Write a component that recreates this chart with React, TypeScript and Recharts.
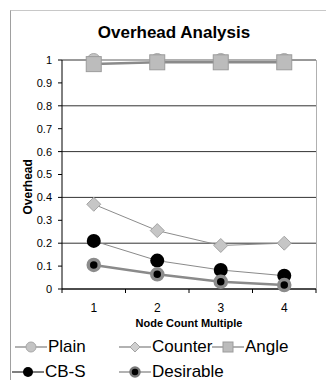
import React from 'react';
import { LineChart, Line, XAxis, YAxis, CartesianGrid } from 'recharts';

const multiples = [1, 2, 3, 4];
const plain = [1.0, 1.0, 1.0, 1.0];
const counter = [0.37, 0.255, 0.19, 0.2];
const angle = [0.982, 0.99, 0.99, 0.99];
const cbs = [0.21, 0.124, 0.083, 0.058];
const desirable = [0.105, 0.064, 0.032, 0.017];
const yTicks = [0, 0.1, 0.2, 0.3, 0.4, 0.5, 0.6, 0.7, 0.8, 0.9, 1];
// tick marks sit between categories, labels in the middle of each band
const xBounds = [0.5, 1.5, 2.5, 3.5, 4.5];

const data = multiples.map((m, i) => ({
  m,
  plain: plain[i],
  counter: counter[i],
  angle: angle[i],
  cbs: cbs[i],
  desirable: desirable[i],
}));

const FONT = '"Liberation Sans", Arial, sans-serif';
const BAND = 254 / 4;

const CircleDot = (props: any) => (
  <circle key={props.key} cx={props.cx} cy={props.cy} r={6.5} fill="#c4c4c4" stroke="#a8a8a8" strokeWidth={1} />
);
const DiamondDot = (props: any) => {
  const { cx, cy } = props;
  const s = 7;
  return (
    <path key={props.key} d={`M${cx},${cy - s} L${cx + s},${cy} L${cx},${cy + s} L${cx - s},${cy} Z`} fill="#c6c6c6" stroke="#a4a4a4" strokeWidth={1} />
  );
};
const SquareDot = (props: any) => (
  <rect key={props.key} x={props.cx - 7.5} y={props.cy - 7.5} width={15} height={15} fill="#bcbcbc" stroke="#9c9c9c" strokeWidth={1} />
);
const BlackDot = (props: any) => (
  <circle key={props.key} cx={props.cx} cy={props.cy} r={7} fill="#000" />
);
const RingDot = (props: any) => (
  <circle key={props.key} cx={props.cx} cy={props.cy} r={5.5} fill="#000" stroke="#8c8c8c" strokeWidth={3.5} />
);

const BandTick = (props: any) => {
  const { x, y, payload } = props;
  if (payload.value >= 4.5) return <g />;
  return (
    <text x={x + BAND / 2} y={y + 17} textAnchor="middle" fill="#000" fontSize={12} fontFamily={FONT}>
      {payload.value + 0.5}
    </text>
  );
};

function LegendIcon({ kind }: { kind: string }) {
  return (
    <svg width={32} height={14} style={{ verticalAlign: 'middle' }}>
      <line x1={0} y1={7} x2={32} y2={7} stroke={kind === 'cbs' ? '#555' : '#999'} strokeWidth={1.5} />
      {kind === 'plain' && <circle cx={16} cy={7} r={5} fill="#c4c4c4" stroke="#a8a8a8" />}
      {kind === 'counter' && <path d="M16,2 L21,7 L16,12 L11,7 Z" fill="#d0d0d0" stroke="#a4a4a4" />}
      {kind === 'angle' && <rect x={11} y={2} width={10} height={10} fill="#bcbcbc" stroke="#9c9c9c" />}
      {kind === 'cbs' && <circle cx={16} cy={7} r={5} fill="#000" />}
      {kind === 'desirable' && <circle cx={16} cy={7} r={4.5} fill="#000" stroke="#777" strokeWidth={2.5} />}
    </svg>
  );
}

function LegendItem({ kind, label, x, y }: { kind: string; label: string; x: number; y: number }) {
  return (
    <div style={{ position: 'absolute', left: x, top: y, display: 'flex', alignItems: 'center', fontFamily: FONT, fontSize: 17, color: '#000', whiteSpace: 'nowrap' }}>
      <LegendIcon kind={kind} />
      <span style={{ marginLeft: 1 }}>{label}</span>
    </div>
  );
}

export default function App() {
  return (
    <div style={{ position: 'absolute', left: 0, top: 0, width: 326, height: 380, background: '#fff', overflow: 'hidden' }}>
      <div style={{ position: 'absolute', left: 10, top: 10, width: 330, height: 380, borderLeft: '1px solid #a0a0a0', borderTop: '1px solid #c8c8c8' }} />
      <div style={{ position: 'absolute', left: 0, width: 348, top: 23, textAlign: 'center', fontFamily: FONT, fontWeight: 'bold', fontSize: 17 }}>
        Overhead Analysis
      </div>
      <LineChart width={326} height={380} data={data} margin={{ top: 60, right: 10, left: 0, bottom: 0 }} style={{ position: 'absolute', left: 0, top: 0 }}>
        <CartesianGrid vertical={false} stroke="#333" strokeWidth={1} />
        <XAxis
          dataKey="m"
          type="number"
          domain={[0.5, 4.5]}
          ticks={xBounds}
          interval={0}
          height={91}
          stroke="#000"
          tickSize={4}
          tick={BandTick}
          label={{ value: 'Node Count Multiple', position: 'insideTop', offset: 0, dy: 30, style: { fontFamily: FONT, fontWeight: 'bold', fontSize: 11, fill: '#000' } }}
        />
        <YAxis
          domain={[0, 1]}
          ticks={yTicks}
          width={62}
          stroke="#000"
          tickSize={4}
          tickMargin={6}
          tick={{ fill: '#000', fontSize: 11, fontFamily: FONT }}
          label={{ value: 'Overhead', angle: -90, position: 'insideLeft', offset: 28, dy: 40, style: { fontFamily: FONT, fontWeight: 'bold', fontSize: 12, fill: '#000' } }}
        />
        <Line dataKey="plain" stroke="#b8b8b8" strokeWidth={1.5} dot={CircleDot} activeDot={false} isAnimationActive={false} />
        <Line dataKey="counter" stroke="#8c8c8c" strokeWidth={1} dot={DiamondDot} activeDot={false} isAnimationActive={false} />
        <Line dataKey="angle" stroke="#8a8a8a" strokeWidth={2.5} dot={SquareDot} activeDot={false} isAnimationActive={false} />
        <Line dataKey="cbs" stroke="#8a8a8a" strokeWidth={1} dot={BlackDot} activeDot={false} isAnimationActive={false} />
        <Line dataKey="desirable" stroke="#8a8a8a" strokeWidth={2.5} dot={RingDot} activeDot={false} isAnimationActive={false} />
      </LineChart>
      <div style={{ position: 'absolute', left: 316, top: 60, width: 1, height: 229, background: '#b0b0b0' }} />
      <LegendItem kind="plain" label="Plain" x={15} y={337} />
      <LegendItem kind="counter" label="Counter" x={119} y={337} />
      <LegendItem kind="angle" label="Angle" x={212} y={337} />
      <LegendItem kind="cbs" label="CB-S" x={12} y={362} />
      <LegendItem kind="desirable" label="Desirable" x={119} y={362} />
    </div>
  );
}
